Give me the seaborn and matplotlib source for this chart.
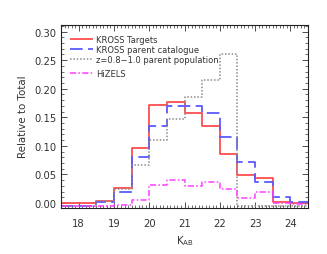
import numpy as np
import pandas as pd
import matplotlib
matplotlib.use("Agg")
import matplotlib.pyplot as plt
import seaborn as sns
from matplotlib.ticker import MultipleLocator

# bin edges of K_AB (width 0.5)
bin_edges = [17.5, 18.0, 18.5, 19.0, 19.5, 20.0, 20.5, 21.0, 21.5, 22.0, 22.5, 23.0, 23.5, 24.0, 24.5]
bin_centers = [17.75, 18.25, 18.75, 19.25, 19.75, 20.25, 20.75, 21.25, 21.75, 22.25, 22.75, 23.25, 23.75, 24.25]

kross_targets = [0.000, 0.000, 0.003, 0.027, 0.096, 0.171, 0.176, 0.157, 0.135, 0.086, 0.049, 0.044, 0.002, 0.000]
kross_parent = [-0.006, -0.005, 0.002, 0.020, 0.080, 0.135, 0.169, 0.169, 0.157, 0.115, 0.071, 0.037, 0.010, 0.002]
z_parent = [-0.005, -0.005, 0.003, 0.024, 0.066, 0.110, 0.147, 0.186, 0.216, 0.261, -0.006, -0.006, -0.006, -0.006]
hizels = [-0.006, -0.006, -0.005, -0.003, 0.005, 0.032, 0.040, 0.029, 0.037, 0.025, 0.009, 0.019, 0.000, -0.002]

labels = ["KROSS Targets", "KROSS parent catalogue", "z=0.8\u22121.0 parent population", "HiZELS"]
series = [kross_targets, kross_parent, z_parent, hizels]
colors = ["#ff4d4d", "#5a5aff", "#8a8a8a", "#ff3dff"]
styles = [(0, ()), (0, (7, 3)), (0, (1, 1.2)), (0, (4, 1.5, 1, 1.5))]
widths = [1.3, 1.3, 1.1, 1.1]

sns.set_style("white")
plt.rcParams["font.family"] = ["DejaVu Sans"]

fig = plt.figure(figsize=(3.27, 2.55), dpi=100)
ax = fig.add_axes([61/327, 1-208.5/255, 247/327, (208.5-25.7)/255])

df = pd.DataFrame({"k": bin_centers * 4,
                   "w": sum(series, []),
                   "s": sum([[l] * len(bin_centers) for l in labels], [])})

handles = []
for lab, col, ls, lw in zip(labels, colors, styles, widths):
    sub = df[df["s"] == lab]
    sns.histplot(data=sub, x="k", weights="w", bins=bin_edges, element="step",
                 fill=False, color=col, linestyle=ls, linewidth=lw, ax=ax)
    handles.append(plt.Line2D([], [], color=col, linestyle=ls, linewidth=lw, label=lab))

ax.set_xlim(17.5, 24.5)
ax.set_ylim(-0.008, 0.312)
ax.xaxis.set_major_locator(MultipleLocator(1))
ax.xaxis.set_minor_locator(MultipleLocator(0.1))
ax.yaxis.set_major_locator(MultipleLocator(0.05))
ax.yaxis.set_minor_locator(MultipleLocator(0.01))
ax.set_yticks([0.0, 0.05, 0.10, 0.15, 0.20, 0.25, 0.30])
ax.set_yticklabels(["0.00", "0.05", "0.10", "0.15", "0.20", "0.25", "0.30"])
ax.tick_params(axis="both", which="both", direction="in", top=True, right=True,
               bottom=True, left=True, colors="#333333", labelsize=7.2)
ax.tick_params(which="major", length=4, width=0.6)
ax.tick_params(which="minor", length=2, width=0.5)
ax.tick_params(axis="x", pad=7.5)
for sp in ax.spines.values():
    sp.set_color("#222222")
    sp.set_linewidth(0.8)

ax.set_xlabel("K$_{\\rm AB}$", fontsize=7.2, color="#333333", labelpad=4)
ax.set_ylabel("Relative to Total", fontsize=7.4, color="#333333", labelpad=4)

leg_kw = dict(loc="upper left", frameon=False, fontsize=6.0, handlelength=2.8,
              handletextpad=0.4, borderaxespad=0.3, labelcolor="#333333")
leg1 = ax.legend(handles=handles[:3], bbox_to_anchor=(0.012, 0.975),
                 labelspacing=0.12, **leg_kw)
ax.add_artist(leg1)
ax.legend(handles=handles[3:], bbox_to_anchor=(0.012, 0.792), **leg_kw)

fig.savefig("out.png", dpi=100)
